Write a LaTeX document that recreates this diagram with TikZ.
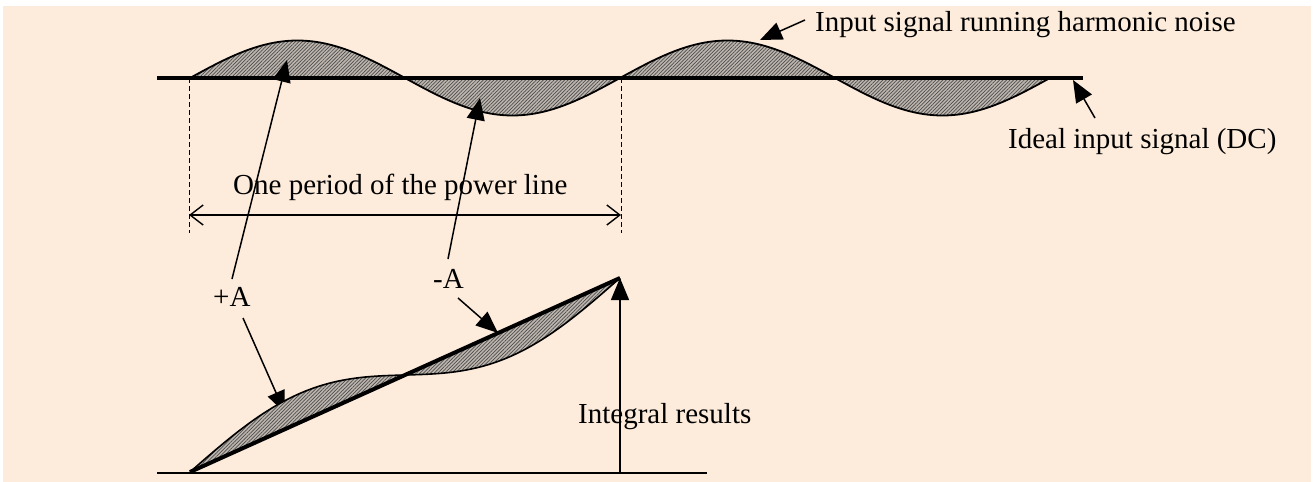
\documentclass[tikz,border=0pt]{standalone}
\usepackage{fontspec}
\setmainfont{Liberation Serif}
\usetikzlibrary{arrows.meta,patterns.meta}
\definecolor{peach}{RGB}{253,236,219}
\definecolor{hatchbg}{RGB}{190,182,174}
\begin{document}
\begin{tikzpicture}[x=1pt,y=-1pt,
  lbl/.style={font=\fontsize{29}{34}\selectfont, inner sep=0pt, anchor=base west},
  ptr/.style={line width=1.5pt, -{Triangle[length=22pt,width=18pt]}},
  hatch/.style={fill=hatchbg, postaction={pattern={Lines[angle=45,distance=2.5pt,line width=0.7pt]}, pattern color=black!70}},
  guide/.style={line width=0.9pt, dash pattern=on 5pt off 3pt},
  dim/.style={line width=1.4pt, {Straight Barb[length=13pt,width=20pt]}-{Straight Barb[length=13pt,width=20pt]}}
]
\useasboundingbox (0,0) rectangle (1315,482);
\fill[peach] (3,6) rectangle (1311,482);

% ---- top: ideal DC and noisy input
\coordinate (bl) at (157,78);
\coordinate (br) at (1083,78);
\path[hatch] plot[domain=190:1050,samples=241] (\x,{78-37.5*sin((\x-190)/430*360)}) -- cycle;
\draw[line width=1.8pt] plot[domain=190:1050,samples=241] (\x,{78-37.5*sin((\x-190)/430*360)});
\draw[line width=4pt] (bl) -- (br);

% ---- period guides
\coordinate (g0t) at (189,78);
\coordinate (g0b) at (189,233);
\coordinate (g1t) at (621,78);
\coordinate (g1b) at (621,233);
\draw[guide] (g0t) -- (g0b);
\draw[guide] (g1t) -- (g1b);
\coordinate (d0) at (189,215);
\coordinate (d1) at (621,215);
\draw[dim] (d0) -- (d1);

% ---- labels
\node[lbl] (noise) at (815,31) {Input signal running harmonic noise};
\node[lbl] (dc) at (1008,148) {Ideal input signal (DC)};
\node[lbl] (period) at (233,194) {One period of the power line};
\node[lbl] (pa) at (213,306) {+A};
\node[lbl] (ma) at (433,288) {-A};
\node[lbl] (integ) at (578,423) {Integral results};

% ---- pointer arrows
\coordinate (n0) at (805,20);   \coordinate (n1) at (760,40);
\coordinate (c0) at (1095,118); \coordinate (c1) at (1073,80);
\coordinate (pa0) at (232,279); \coordinate (pa1) at (287,60);
\coordinate (pb0) at (243,318); \coordinate (pb1) at (285,413);
\coordinate (ma0) at (448,259); \coordinate (ma1) at (480,98);
\coordinate (mb0) at (458,298); \coordinate (mb1) at (498,333);
\draw[ptr] (n0) -- (n1);
\draw[ptr] (c0) -- (c1);
\draw[ptr] (pa0) -- (pa1);
\draw[ptr] (pb0) -- (pb1);
\draw[ptr] (ma0) -- (ma1);
\draw[ptr] (mb0) -- (mb1);

% ---- bottom: integral
\coordinate (ib0) at (157,473);
\coordinate (ib1) at (707,473);
\coordinate (is) at (190,472);
\coordinate (ie) at (620,278);
\coordinate (iv) at (620,473);
\draw[line width=1.5pt] (ib0) -- (ib1);
\path[hatch] plot[domain=190:620,samples=161] (\x,{472-(\x-190)/430*194-29*sin((\x-190)/430*360)}) -- cycle;
\draw[line width=1.6pt] plot[domain=190:620,samples=161] (\x,{472-(\x-190)/430*194-29*sin((\x-190)/430*360)});
\draw[line width=4pt] (is) -- (ie);
\draw[ptr] (iv) -- (ie);
\end{tikzpicture}
\end{document}
